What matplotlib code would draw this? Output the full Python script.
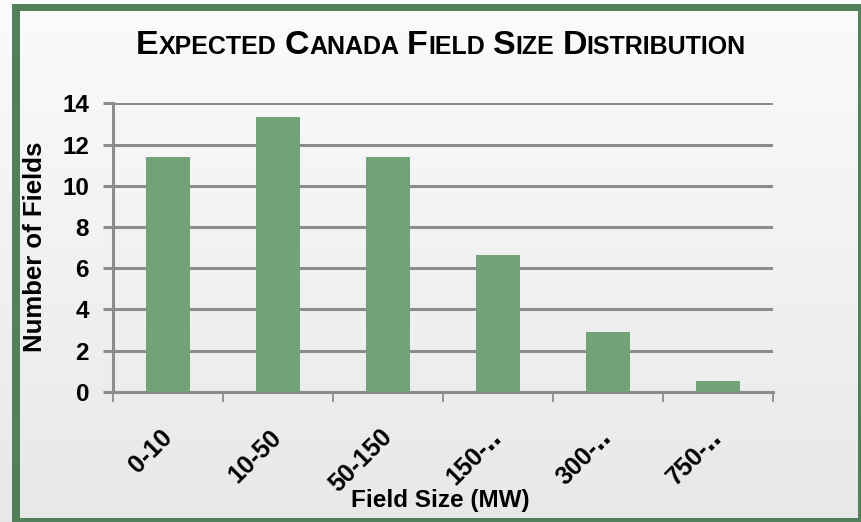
import matplotlib.pyplot as plt
import matplotlib.transforms as mtransforms
import numpy as np
from matplotlib.colors import LinearSegmentedColormap
from matplotlib.patches import Rectangle

categories = ["0-10", "10-50", "50-150", "150-‥", "300-‥", "750-‥"]
counts = [11.4, 13.35, 11.4, 6.65, 2.9, 0.5]
y_ticks = [0, 2, 4, 6, 8, 10, 12, 14]

title_text = "Expected Canada Field Size Distribution"
x_label = "Field Size (MW)"
y_label = "Number of Fields"

FONT = ["Liberation Sans Narrow", "Liberation Sans", "DejaVu Sans"]
FRAME = "#52805a"
BAR = "#70a478"
GRID = "#8c8c8c"

W, H = 861, 522


def px_x(x):
    return x / W


def px_y(y):
    return 1 - y / H


def small_caps(fig, text, xc, y, big, small):
    # matplotlib has no small-caps variant, so build it from pieces
    renderer = fig.canvas.get_renderer()
    pieces = []
    for i, word in enumerate(text.split(" ")):
        if i:
            pieces.append((" ", small))
        pieces.append((word[0].upper(), big))
        if len(word) > 1:
            pieces.append((word[1:].upper(), small))
    items = []
    total = 0.0
    for s, size in pieces:
        t = fig.text(0, y, s, fontsize=size, fontweight="bold", family=FONT,
                     va="baseline", ha="left")
        w = t.get_window_extent(renderer).width
        if s == " ":
            w = size * 0.45
        items.append((t, w))
        total += w
    x = xc * W - total / 2
    for t, w in items:
        t.set_x(x / W)
        x += w


fig = plt.figure(figsize=(W / 100, H / 100), dpi=100)

# background gradient and green frame
bg = fig.add_axes([0, 0, 1, 1], zorder=-10)
grad = np.linspace(0, 1, 256).reshape(-1, 1)
cmap = LinearSegmentedColormap.from_list("bg", ["#fbfbfb", "#e8e8e8"])
bg.imshow(grad, aspect="auto", cmap=cmap, extent=[0, 1, 0, 1])
bg.set_xlim(0, 1)
bg.set_ylim(0, 1)
bg.axis("off")
for rect in [
    (px_x(12), 0, px_x(8), px_y(4)),                  # left
    (px_x(12), px_y(11), 1, px_y(4) - px_y(11)),      # top
    (px_x(858), 0, 1, px_y(4)),                       # right
    (px_x(12), 0, 1, px_y(518)),                      # bottom
]:
    bg.add_patch(Rectangle(rect[:2], rect[2], rect[3], facecolor=FRAME,
                           edgecolor="none", zorder=2))

ax = fig.add_axes([px_x(113), px_y(391.7), px_x(773) - px_x(113), px_y(103.3) - px_y(391.7)])
ax.patch.set_alpha(0)

x = np.arange(len(categories))
ax.bar(x, counts, width=0.4, color=BAR, zorder=3)

ax.set_xlim(-0.5, len(categories) - 0.5)
ax.set_ylim(0, 14)
ax.set_yticks(y_ticks)
ax.grid(axis="y", color=GRID, linewidth=2.2, zorder=1)
ax.set_axisbelow(True)

for side in ["top", "right"]:
    ax.spines[side].set_visible(False)
for side in ["left", "bottom"]:
    ax.spines[side].set_color(GRID)
    ax.spines[side].set_linewidth(2.2)

ax.set_xticks(np.arange(len(categories) + 1) - 0.5)
ax.set_xticklabels([])
ax.set_xticks(x, minor=True)
ax.set_xticklabels(categories, minor=True, rotation=45, ha="right", va="center",
                   rotation_mode="anchor", fontsize=18, fontweight="bold",
                   family=FONT)
shift = mtransforms.ScaledTranslation(-4 / 100, -2 / 100, fig.dpi_scale_trans)
for lbl in ax.get_xticklabels(minor=True):
    lbl.set_transform(lbl.get_transform() + shift)
ax.tick_params(axis="x", which="major", length=7.5, width=1.3, color=GRID)
ax.tick_params(axis="x", which="minor", length=0, pad=30)
ax.tick_params(axis="y", length=7.2, width=2.2, color=GRID, pad=10)
for lbl in ax.get_yticklabels():
    lbl.set_fontsize(17.5)
    lbl.set_fontweight("bold")
    lbl.set_family(FONT)

fig.text(px_x(440), px_y(500), x_label, ha="center", va="center", fontsize=17.5,
         fontweight="bold", family=FONT)
fig.text(px_x(35), px_y(247), y_label, ha="center", va="center", rotation=90,
         fontsize=18.5, fontweight="bold", family=FONT)

small_caps(fig, title_text, px_x(441), px_y(54), 24.5, 18)

fig.savefig("out.png", dpi=100)
